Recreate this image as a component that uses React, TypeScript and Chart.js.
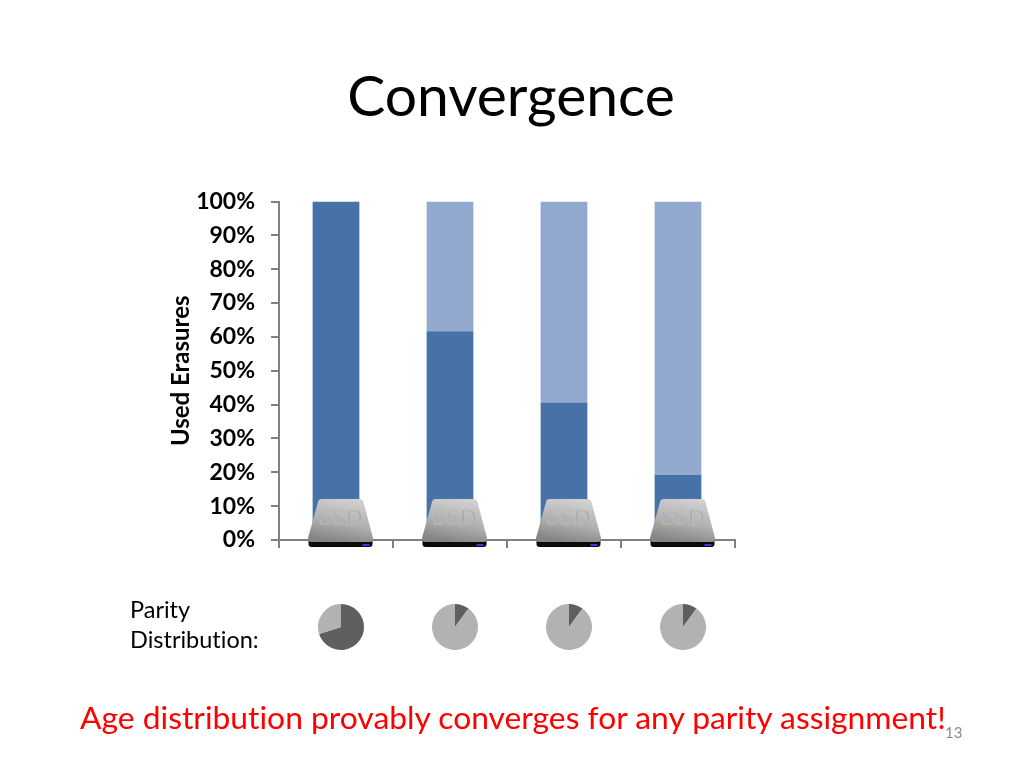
import React, { useEffect, useRef } from "react";
import { Chart, registerables } from "chart.js";

Chart.register(...registerables);

const categories = ["A", "B", "C", "D"];
const usedErasures = [100, 61.7, 40.6, 19.3];
const remaining = [0, 38.3, 59.4, 80.7];
const parityShares = [
  [70, 30],
  [10, 90],
  [10, 90],
  [10, 90],
];
const pieCentres = [341, 455, 569, 683];

const FONT = "Lato, 'Open Sans', sans-serif";

const ssdPlugin = {
  id: "ssdIcons",
  afterDraw(chart: any) {
    const { ctx, scales } = chart;
    const base = scales.y.getPixelForValue(0);
    categories.forEach((_, i) => {
      const cx = scales.x.getPixelForValue(i) + 4.5;
      const top = base - 41;
      const bottom = base + 2;
      ctx.save();
      // base strip
      ctx.fillStyle = "#0a0a0a";
      ctx.beginPath();
      ctx.roundRect(cx - 32, bottom - 3, 64, 8, 3);
      ctx.fill();
      // LED
      ctx.fillStyle = "#3a3ae0";
      ctx.fillRect(cx + 22, bottom + 2, 7, 2);
      // body
      const g = ctx.createLinearGradient(cx + 4, top, cx - 4, bottom);
      g.addColorStop(0, "#d0d0d0");
      g.addColorStop(0.55, "#b0b0b0");
      g.addColorStop(1, "#848484");
      ctx.fillStyle = g;
      ctx.beginPath();
      ctx.moveTo(cx - 22.5, top + 3);
      ctx.quadraticCurveTo(cx - 22, top, cx - 19, top);
      ctx.lineTo(cx + 19, top);
      ctx.quadraticCurveTo(cx + 22, top, cx + 23, top + 3);
      ctx.lineTo(cx + 32.5, bottom - 4);
      ctx.quadraticCurveTo(cx + 33, bottom, cx + 29, bottom);
      ctx.lineTo(cx - 29, bottom);
      ctx.quadraticCurveTo(cx - 33, bottom, cx - 32.5, bottom - 4);
      ctx.closePath();
      ctx.fill();
      // label
      ctx.font = "24px 'Liberation Serif', serif";
      ctx.textAlign = "center";
      ctx.textBaseline = "middle";
      ctx.fillStyle = "rgba(170,170,170,0.9)";
      ctx.fillText("SSD", cx, top + 20);
      ctx.strokeStyle = "rgba(205,205,205,0.6)";
      ctx.lineWidth = 0.5;
      ctx.strokeText("SSD", cx, top + 20);
      ctx.restore();
    });
  },
};

function Pie({ values, centre }: { values: number[]; centre: number }) {
  const ref = useRef<HTMLCanvasElement>(null);
  useEffect(() => {
    const chart = new Chart(ref.current!, {
      type: "pie",
      data: {
        labels: ["Parity", "Data"],
        datasets: [
          {
            data: values,
            backgroundColor: ["#5f5f5f", "#b2b2b2"],
            borderWidth: 0,
          },
        ],
      },
      options: {
        animation: false,
        responsive: false,
        plugins: { legend: { display: false }, tooltip: { enabled: false } },
      },
    });
    return () => chart.destroy();
  }, []);
  return (
    <canvas
      ref={ref}
      width={46}
      height={46}
      style={{ position: "absolute", left: centre - 23, top: 604 }}
    />
  );
}

export default function App() {
  const ref = useRef<HTMLCanvasElement>(null);
  useEffect(() => {
    const chart = new Chart(ref.current!, {
      type: "bar",
      data: {
        labels: categories,
        datasets: [
          {
            label: "Used",
            data: usedErasures,
            backgroundColor: "#4672a8",
            stack: "s",
            barPercentage: 0.41,
            categoryPercentage: 1,
          },
          {
            label: "Remaining",
            data: remaining,
            backgroundColor: "#91a8cf",
            stack: "s",
            barPercentage: 0.41,
            categoryPercentage: 1,
          },
        ],
      },
      options: {
        animation: false,
        responsive: false,
        layout: { padding: { left: 167, right: 289, top: 201.5, bottom: 220 } },
        plugins: { legend: { display: false }, tooltip: { enabled: false } },
        scales: {
          x: {
            stacked: true,
            afterFit: (s: any) => {
              s.height = 8;
            },
            border: { color: "#808080", width: 2 },
            grid: {
              drawOnChartArea: false,
              drawTicks: true,
              tickLength: 8,
              color: "#808080",
              lineWidth: 2,
              offset: true,
            },
            ticks: { display: false },
          },
          y: {
            stacked: true,
            min: 0,
            max: 100,
            afterFit: (s: any) => {
              s.width = 112;
            },
            border: { color: "#808080", width: 2 },
            grid: {
              drawOnChartArea: false,
              drawTicks: true,
              tickLength: 8,
              color: "#808080",
              lineWidth: 2,
            },
            ticks: {
              stepSize: 10,
              padding: 16,
              color: "#000",
              font: { family: FONT, size: 23, weight: "bold" },
              callback: (v: any) => `${v}%`,
            },
            title: {
              display: true,
              text: "Used Erasures",
              color: "#000",
              padding: 0,
              font: { family: FONT, size: 24, weight: "bold" },
            },
          },
        },
      },
      plugins: [ssdPlugin],
    });
    return () => chart.destroy();
  }, []);

  const text = (s: string, style: React.CSSProperties) => (
    <div style={{ position: "absolute", fontFamily: FONT, whiteSpace: "nowrap", lineHeight: 1, fontVariantLigatures: "none", ...style }}>{s}</div>
  );

  return (
    <div style={{ position: "absolute", left: 0, top: 0, width: 1024, height: 768, background: "#fff", overflow: "hidden" }}>
      <canvas ref={ref} width={1024} height={768} style={{ position: "absolute", left: 0, top: 0 }} />
      {parityShares.map((v, i) => (
        <Pie key={i} values={v} centre={pieCentres[i]} />
      ))}
      {text("Convergence", { left: -1, width: 1024, textAlign: "center", top: 66, fontSize: 57, color: "#000" })}
      {text("Parity", { left: 130, top: 598, fontSize: 23.5, color: "#000" })}
      {text("Distribution:", { left: 130, top: 628, fontSize: 23.5, color: "#000" })}
      {text("Age distribution provably converges for any parity assignment!", { left: 80, top: 702, fontSize: 31.8, color: "#f00" })}
      {text("13", { left: 945, top: 725, fontSize: 15, color: "#8a8a8a" })}
    </div>
  );
}
